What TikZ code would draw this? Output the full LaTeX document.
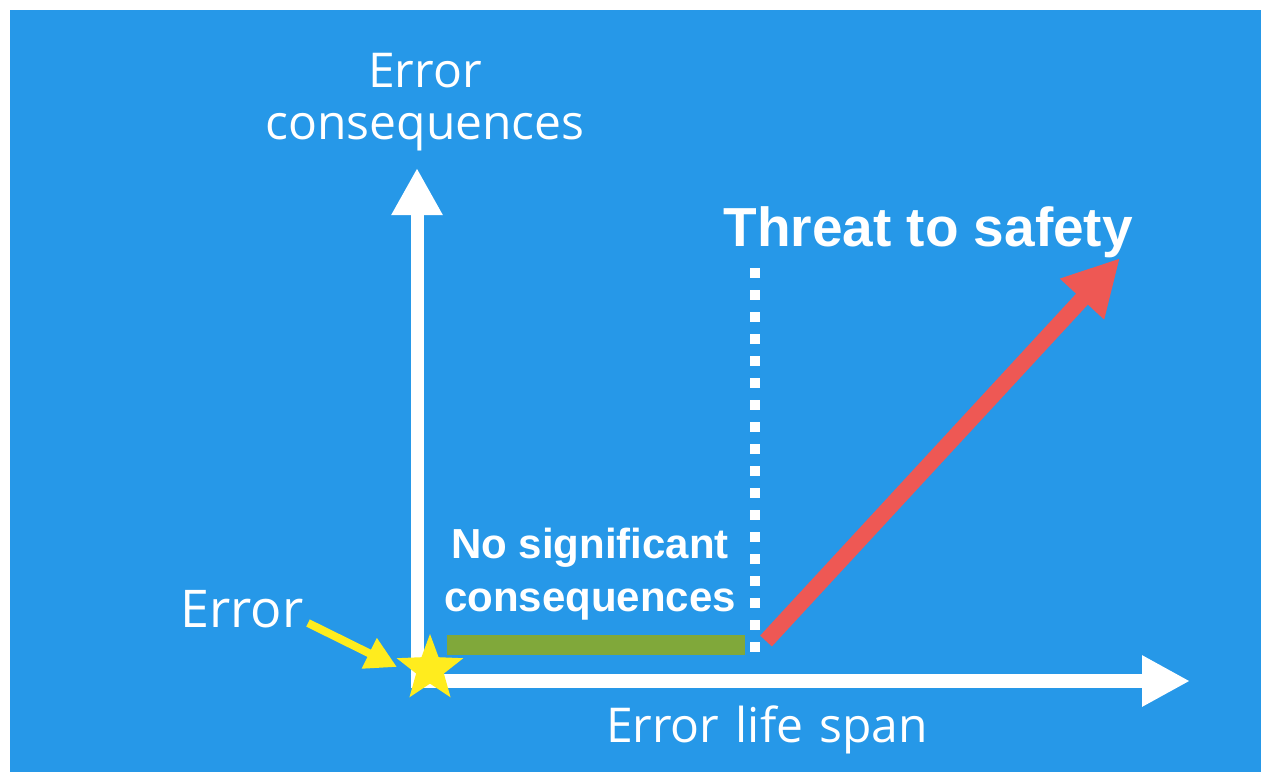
\documentclass[tikz,border=0pt]{standalone}
\usepackage{fontspec}
\setmainfont{Open Sans}[WordSpace=1.3]
\newfontfamily\arialfont{Liberation Sans}
\definecolor{skyblue}{RGB}{38,152,232}
\definecolor{threatred}{RGB}{238,88,84}
\definecolor{olivebar}{RGB}{128,168,58}
\definecolor{staryellow}{RGB}{255,236,30}
\usetikzlibrary{arrows.meta,shapes.geometric,positioning}

\begin{document}
\begin{tikzpicture}[x=0.5pt,y=-0.5pt,
    axisline/.style={draw=white,line width=6.5pt,-{Triangle[width=24pt,length=23.5pt]}},
    handlabel/.style={text=white,inner sep=0pt,font=\fontsize{24}{26}\selectfont},
    boldlabel/.style={text=white,inner sep=0pt,font=\arialfont\bfseries\fontsize{21}{26.5}\selectfont}]
    \useasboundingbox (0,0) rectangle (1261,772);
    \fill[white] (0,0) rectangle (1261,772);
    \fill[skyblue] (10,10) rectangle (1261,772);

    \coordinate (ybase) at (417,687.5);
    \coordinate (ytop) at (417,168);
    \coordinate (xbase) at (410.5,681);
    \coordinate (xend) at (1190,681);
    \coordinate (limtop) at (755,268);
    \coordinate (limbot) at (755,658);
    \coordinate (barstart) at (447,645);
    \coordinate (barend) at (745,645);
    \coordinate (redstart) at (766,641);
    \coordinate (redtip) at (1120,258);
    \coordinate (errtail) at (308,623);
    \coordinate (errtip) at (397,667);

    \draw[axisline] (ybase) -- (ytop);
    \draw[axisline,line width=7pt,-{Triangle[width=24pt,length=24pt]}] (xbase) -- (xend);
    \draw[white,line width=5pt,dash pattern=on 5pt off 6pt] (limtop) -- (limbot);
    \draw[olivebar,line width=10pt] (barstart) -- (barend);
    \draw[threatred,line width=8pt,-{Triangle[width=28pt,length=28pt]}] (redstart) -- (redtip);
    \draw[staryellow,line width=4pt,-{Triangle[width=16pt,length=15.5pt]}] (errtail) -- (errtip);
    \node[star,star points=5,star point ratio=2.4,fill=staryellow,minimum size=35pt,inner sep=0pt] (errstar) at (430,669) {};

    \node[handlabel,align=center,anchor=north] (ylabel) at (425,53) {Error\\consequences};
    \node[handlabel,anchor=base] (xlabel) at (767,742) {Error life span};
    \node[handlabel,font=\fontsize{26}{28}\selectfont,anchor=base west] (errlbl) at (180,627) {Error};
    \node[boldlabel,font=\arialfont\bfseries\fontsize{27.5}{30}\selectfont,anchor=base west] (threat) at (723,246) {Threat to safety};
    \node[boldlabel,align=center,anchor=north] (nosig) at (590,528) {No significant\\consequences};
\end{tikzpicture}
\end{document}
